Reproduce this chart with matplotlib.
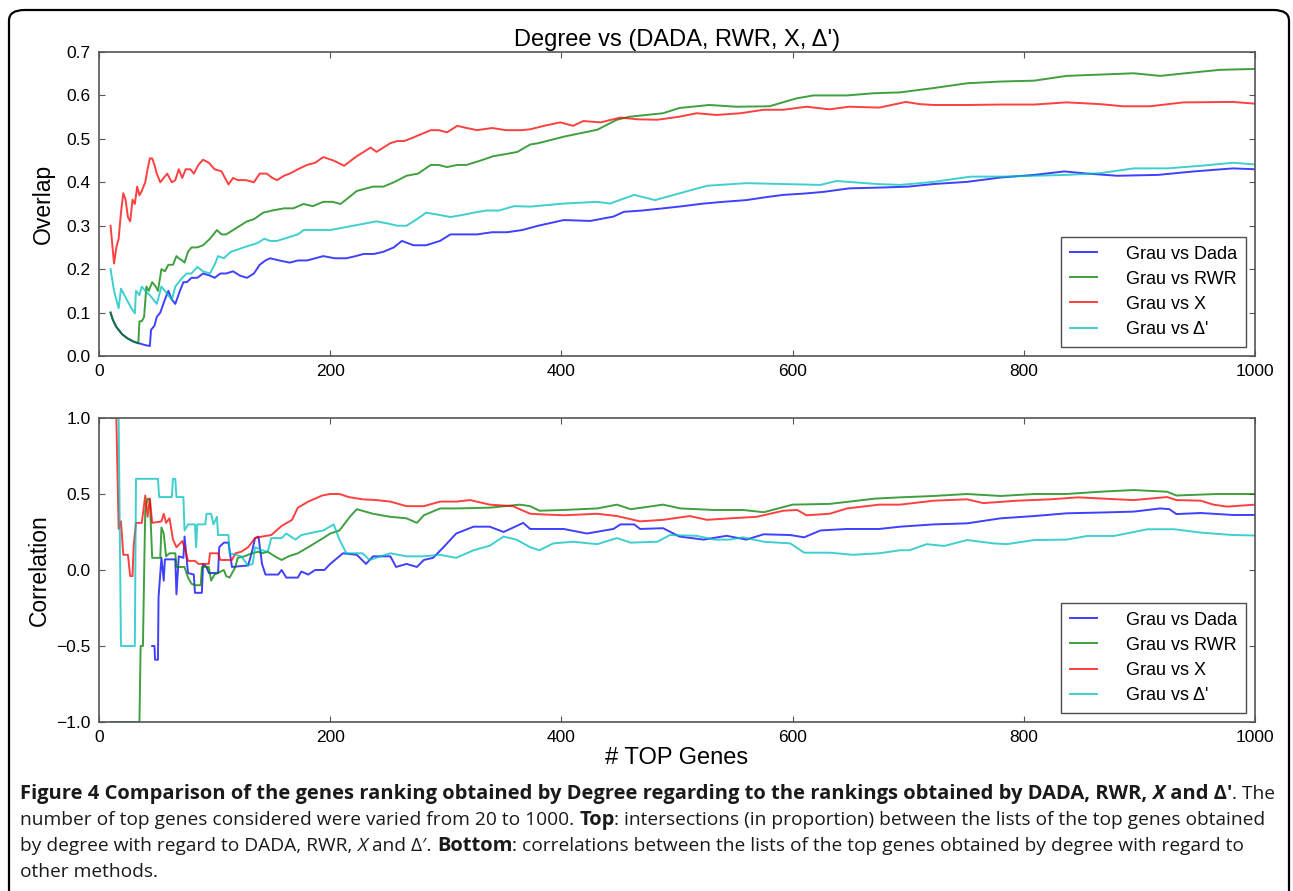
import matplotlib

matplotlib.use("Agg")
import matplotlib.pyplot as plt  # noqa: E402
from matplotlib.patches import FancyBboxPatch  # noqa: E402
from matplotlib.text import Annotation  # noqa: E402

# ---- top panel: overlap ----
ov_dada_x = [10, 12, 15, 20, 25, 30, 35, 40, 44, 45, 48, 50, 53, 57, 60, 63, 66, 70, 73, 76, 80,
             85, 90, 96, 100, 105, 110, 116, 122, 128, 134, 139, 144, 148, 156, 165, 172, 180, 187,
             194, 204, 214, 222, 229, 238, 246, 255, 262, 272, 283, 295, 304, 315, 327, 340, 353,
             366, 380, 402, 425, 445, 454, 470, 488, 505, 523, 540, 560, 575, 592, 610, 627, 649,
             678, 700, 722, 751, 780, 809, 835, 855, 881, 916, 947, 981, 1000]
ov_dada_y = [0.10, 0.083, 0.067, 0.05, 0.04, 0.033, 0.029, 0.025, 0.023, 0.06, 0.07, 0.09, 0.10,
             0.13, 0.15, 0.13, 0.12, 0.15, 0.17, 0.17, 0.18, 0.18, 0.19, 0.185, 0.18, 0.19, 0.19,
             0.195, 0.185, 0.18, 0.19, 0.21, 0.22, 0.225, 0.22, 0.215, 0.22, 0.22, 0.225, 0.23,
             0.225, 0.225, 0.23, 0.235, 0.235, 0.24, 0.25, 0.265, 0.255, 0.255, 0.265, 0.28, 0.28,
             0.28, 0.285, 0.285, 0.29, 0.30, 0.313, 0.311, 0.321, 0.332, 0.335, 0.34, 0.345, 0.351,
             0.355, 0.359, 0.365, 0.371, 0.374, 0.378, 0.386, 0.388, 0.39, 0.396, 0.401, 0.411,
             0.417, 0.425, 0.42, 0.415, 0.417, 0.425, 0.432, 0.43]

ov_rwr_x = [10, 12, 15, 20, 25, 30, 34, 35, 37, 39, 41, 43, 46, 49, 51, 54, 57, 60, 64, 67, 69, 72,
            74, 77, 80, 85, 90, 96, 102, 106, 110, 116, 122, 128, 134, 142, 150, 160, 168, 177, 185,
            194, 202, 209, 216, 223, 230, 237, 246, 255, 266, 276, 287, 294, 301, 310, 318, 330,
            341, 352, 362, 373, 380, 402, 431, 448, 459, 488, 502, 528, 551, 580, 603, 618, 647,
            670, 693, 722, 751, 780, 809, 837, 866, 895, 918, 947, 970, 1000]
ov_rwr_y = [0.10, 0.083, 0.067, 0.05, 0.04, 0.033, 0.029, 0.08, 0.08, 0.09, 0.16, 0.15, 0.17, 0.16,
            0.15, 0.20, 0.195, 0.21, 0.21, 0.23, 0.225, 0.22, 0.215, 0.24, 0.25, 0.25, 0.255, 0.27,
            0.29, 0.28, 0.28, 0.29, 0.30, 0.31, 0.315, 0.33, 0.335, 0.34, 0.34, 0.35, 0.345, 0.355,
            0.355, 0.35, 0.365, 0.38, 0.385, 0.39, 0.39, 0.40, 0.415, 0.42, 0.44, 0.44, 0.435, 0.44,
            0.44, 0.45, 0.46, 0.465, 0.47, 0.487, 0.49, 0.505, 0.521, 0.544, 0.551, 0.559, 0.571,
            0.578, 0.574, 0.575, 0.593, 0.60, 0.60, 0.605, 0.607, 0.617, 0.628, 0.632, 0.634, 0.645,
            0.648, 0.651, 0.645, 0.653, 0.659, 0.661]

ov_x_x = [10, 13, 15, 17, 19, 21, 23, 25, 27, 29, 31, 33, 35, 37, 40, 42, 44, 46, 48, 50, 53, 56,
          59, 63, 66, 69, 72, 75, 79, 82, 86, 90, 95, 100, 106, 112, 116, 120, 127, 134, 139, 145,
          150, 154, 160, 165, 172, 180, 187, 194, 203, 212, 218, 223, 229, 235, 240, 246, 252, 258,
          264, 269, 278, 287, 294, 301, 310, 318, 327, 340, 352, 365, 373, 385, 399, 410, 419, 434,
          451, 466, 483, 502, 517, 534, 555, 575, 592, 612, 632, 649, 675, 698, 710, 722, 751, 780,
          809, 837, 866, 886, 909, 938, 981, 1000]
ov_x_y = [0.30, 0.213, 0.25, 0.27, 0.33, 0.375, 0.36, 0.32, 0.31, 0.36, 0.35, 0.39, 0.37, 0.38,
          0.40, 0.43, 0.455, 0.455, 0.44, 0.42, 0.40, 0.41, 0.42, 0.40, 0.405, 0.43, 0.41, 0.43,
          0.43, 0.42, 0.44, 0.452, 0.445, 0.43, 0.425, 0.395, 0.41, 0.405, 0.405, 0.40, 0.42, 0.42,
          0.41, 0.405, 0.415, 0.42, 0.43, 0.44, 0.445, 0.458, 0.45, 0.438, 0.45, 0.46, 0.47, 0.48,
          0.47, 0.48, 0.49, 0.495, 0.495, 0.50, 0.51, 0.52, 0.52, 0.515, 0.53, 0.525, 0.52, 0.525,
          0.52, 0.52, 0.522, 0.53, 0.538, 0.53, 0.541, 0.538, 0.549, 0.545, 0.544, 0.551, 0.559,
          0.555, 0.559, 0.567, 0.567, 0.574, 0.568, 0.574, 0.572, 0.585, 0.58, 0.578, 0.578, 0.579,
          0.579, 0.584, 0.58, 0.575, 0.575, 0.584, 0.585, 0.581]

ov_delta_x = [10, 13, 17, 19, 22, 25, 28, 31, 32, 35, 37, 40, 44, 47, 50, 54, 57, 60, 63, 66, 69,
              72, 76, 80, 85, 90, 96, 100, 103, 108, 114, 120, 125, 131, 137, 143, 148, 154, 160,
              166, 172, 177, 185, 192, 200, 210, 220, 230, 240, 250, 258, 266, 275, 283, 294, 304,
              315, 324, 335, 346, 359, 373, 402, 431, 442, 463, 481, 500, 526, 560, 592, 624, 638,
              673, 693, 722, 754, 780, 809, 837, 866, 895, 924, 953, 981, 1000]
ov_delta_y = [0.20, 0.15, 0.11, 0.155, 0.14, 0.125, 0.11, 0.098, 0.15, 0.14, 0.16, 0.15, 0.14, 0.13,
              0.12, 0.16, 0.15, 0.14, 0.13, 0.16, 0.17, 0.18, 0.19, 0.19, 0.205, 0.195, 0.19, 0.21,
              0.23, 0.225, 0.24, 0.245, 0.25, 0.255, 0.26, 0.27, 0.265, 0.265, 0.27, 0.275, 0.28,
              0.29, 0.29, 0.29, 0.29, 0.295, 0.30, 0.305, 0.31, 0.305, 0.30, 0.30, 0.315, 0.33,
              0.325, 0.32, 0.325, 0.33, 0.335, 0.335, 0.345, 0.344, 0.351, 0.355, 0.351, 0.371,
              0.359, 0.373, 0.392, 0.398, 0.396, 0.394, 0.403, 0.396, 0.394, 0.401, 0.413, 0.413,
              0.415, 0.417, 0.421, 0.432, 0.432, 0.438, 0.445, 0.441]

# ---- bottom panel: correlation ----
co_dada_x = [46, 48, 48.5, 51, 51.5, 54, 56, 57, 66, 67, 69, 73, 74, 77, 82, 83, 89, 90, 93, 95,
             103, 104, 108, 112, 115, 129, 132, 135, 138, 141, 144, 155, 158, 162, 172, 175, 181,
             187, 195, 200, 211, 223, 231, 237, 252, 257, 266, 275, 281, 289, 298, 309, 324, 338,
             350, 367, 373, 381, 402, 422, 445, 451, 463, 468, 488, 502, 523, 543, 560, 575, 598,
             610, 624, 647, 675, 693, 722, 751, 780, 809, 837, 866, 895, 918, 926, 932, 953, 981,
             1000]
co_dada_y = [-0.5, -0.5, -0.59, -0.59, -0.18, 0.08, -0.07, 0.07, 0.07, -0.16, 0.09, 0.08, 0.22,
             -0.02, -0.03, -0.15, -0.15, 0.04, 0.02, -0.02, -0.02, 0.15, 0.18, 0.18, 0.02, 0.03,
             0.11, 0.21, 0.22, 0.04, -0.03, -0.03, 0.0, -0.05, -0.05, -0.01, -0.03, 0.0, 0.0, 0.04,
             0.11, 0.10, 0.04, 0.09, 0.09, 0.02, 0.04, 0.02, 0.066, 0.08, 0.15, 0.24, 0.285, 0.285,
             0.25, 0.31, 0.27, 0.27, 0.27, 0.24, 0.27, 0.30, 0.30, 0.27, 0.275, 0.22, 0.20, 0.225,
             0.20, 0.235, 0.23, 0.215, 0.26, 0.27, 0.27, 0.285, 0.30, 0.307, 0.34, 0.355, 0.373,
             0.378, 0.384, 0.405, 0.40, 0.368, 0.375, 0.362, 0.362]

co_rwr_x = [10, 35, 36, 38, 39, 40, 42, 44, 46, 53, 54, 56, 58, 61, 66, 67, 74, 77, 80, 83, 88, 89,
            95, 97, 100, 108, 110, 113, 118, 120, 126, 132, 138, 141, 146, 152, 158, 164, 172, 181,
            194, 200, 208, 217, 223, 237, 252, 266, 275, 281, 295, 309, 338, 364, 373, 381, 402,
            431, 448, 460, 488, 503, 532, 557, 575, 600, 632, 672, 693, 722, 751, 780, 809, 837,
            866, 895, 924, 932, 967, 1000]
co_rwr_y = [-1.0, -1.0, -0.5, -0.5, -0.04, 0.39, 0.47, 0.46, 0.08, 0.08, 0.28, 0.24, 0.09, 0.11,
            0.11, 0.02, 0.02, -0.05, -0.09, -0.10, -0.10, 0.02, 0.02, -0.07, -0.03, 0.0, -0.04,
            -0.05, 0.02, 0.08, 0.09, 0.11, 0.12, 0.11, 0.12, 0.09, 0.066, 0.09, 0.11, 0.15, 0.21,
            0.24, 0.26, 0.35, 0.40, 0.37, 0.35, 0.34, 0.31, 0.36, 0.405, 0.405, 0.41, 0.43, 0.42,
            0.39, 0.395, 0.405, 0.43, 0.40, 0.43, 0.405, 0.395, 0.395, 0.38, 0.43, 0.435, 0.47,
            0.478, 0.487, 0.50, 0.487, 0.50, 0.50, 0.515, 0.526, 0.515, 0.49, 0.50, 0.50]

co_x_x = [10, 15, 17, 19, 21, 25, 27, 29, 30, 32, 37, 40, 42, 44, 46, 54, 56, 58, 61, 64, 67, 72,
          74, 77, 83, 86, 95, 96, 103, 105, 115, 118, 123, 129, 135, 141, 149, 158, 167, 172, 181,
          193, 200, 208, 216, 228, 240, 252, 266, 281, 295, 309, 321, 338, 358, 373, 385, 402, 431,
          448, 468, 488, 511, 526, 546, 569, 592, 604, 612, 632, 647, 675, 693, 722, 751, 765, 794,
          823, 847, 881, 895, 924, 932, 953, 964, 976, 1000]
co_x_y = [1.0, 1.0, 0.27, 0.32, 0.10, 0.10, -0.04, -0.04, 0.16, 0.31, 0.31, 0.49, 0.35, 0.47, 0.31,
          0.32, 0.37, 0.31, 0.34, 0.20, 0.15, 0.19, 0.15, 0.06, 0.06, 0.04, 0.04, 0.11, 0.11,
          0.066, 0.066, 0.11, 0.12, 0.15, 0.21, 0.22, 0.23, 0.29, 0.33, 0.41, 0.45, 0.49, 0.50,
          0.50, 0.48, 0.465, 0.46, 0.45, 0.42, 0.42, 0.45, 0.45, 0.46, 0.43, 0.42, 0.37, 0.365,
          0.36, 0.37, 0.355, 0.32, 0.33, 0.355, 0.33, 0.34, 0.35, 0.39, 0.395, 0.36, 0.37, 0.405,
          0.43, 0.43, 0.456, 0.465, 0.44, 0.456, 0.465, 0.478, 0.465, 0.46, 0.48, 0.46, 0.456,
          0.43, 0.417, 0.43]

co_delta_x = [10, 17, 19, 31, 32, 51, 52, 63, 64, 66, 67, 73, 74, 77, 83, 84, 85, 92, 93, 97, 99,
              102, 103, 112, 113, 123, 129, 133, 135, 141, 146, 149, 158, 162, 170, 175, 187, 194,
              203, 208, 214, 228, 234, 252, 266, 281, 295, 309, 324, 338, 350, 361, 373, 381, 393,
              410, 431, 448, 460, 483, 494, 517, 532, 546, 557, 575, 598, 610, 632, 652, 675, 693,
              701, 716, 731, 751, 774, 785, 809, 837, 855, 878, 907, 930, 953, 981, 1000]
co_delta_y = [1.0, 1.0, -0.5, -0.5, 0.60, 0.60, 0.48, 0.48, 0.60, 0.60, 0.48, 0.48, 0.26, 0.30,
              0.30, 0.15, 0.30, 0.30, 0.37, 0.37, 0.30, 0.35, 0.23, 0.23, 0.11, 0.09, 0.03, 0.04,
              0.15, 0.13, 0.12, 0.21, 0.21, 0.24, 0.20, 0.23, 0.25, 0.26, 0.30, 0.20, 0.11, 0.11,
              0.066, 0.11, 0.09, 0.09, 0.10, 0.08, 0.13, 0.16, 0.22, 0.20, 0.15, 0.13, 0.175, 0.186,
              0.17, 0.21, 0.18, 0.186, 0.23, 0.225, 0.20, 0.20, 0.215, 0.186, 0.175, 0.114, 0.114,
              0.10, 0.11, 0.13, 0.13, 0.17, 0.158, 0.197, 0.175, 0.17, 0.197, 0.20, 0.224, 0.224,
              0.268, 0.268, 0.246, 0.23, 0.227]

labels = ["Grau vs Dada", "Grau vs RWR", "Grau vs X", "Grau vs \u0394'"]
colors = ["b", "g", "r", "c"]

top_series = [(ov_dada_x, ov_dada_y), (ov_rwr_x, ov_rwr_y), (ov_x_x, ov_x_y),
              (ov_delta_x, ov_delta_y)]
bot_series = [(co_dada_x, co_dada_y), (co_rwr_x, co_rwr_y), (co_x_x, co_x_y),
              (co_delta_x, co_delta_y)]

plt.rcParams["font.family"] = ["Liberation Sans", "DejaVu Sans"]
plt.rcParams["axes.unicode_minus"] = True

W, H = 1293, 891
fig = plt.figure(figsize=(W / 100, H / 100), dpi=100)

# rounded border of the figure panel (bottom edge runs off the image)
fig.patches.append(FancyBboxPatch((9 / W, -0.2), 1280 / W, 1.2 - 10 / H,
                                  boxstyle="round,pad=0,rounding_size=0.012",
                                  transform=fig.transFigure, fill=False,
                                  ec="black", lw=1.6))

ax1 = fig.add_axes([99 / W, 1 - 356 / H, 1156 / W, 304 / H])
ax2 = fig.add_axes([99 / W, 1 - 722 / H, 1156 / W, 304 / H])

for ax, series in ((ax1, top_series), (ax2, bot_series)):
    for (xs, ys), c, lab in zip(series, colors, labels):
        ax.plot(xs, ys, color=c, alpha=0.75, lw=1.4, label=lab)
    ax.set_xlim(0, 1000)
    ax.set_xticks(range(0, 1001, 200))
    ax.tick_params(direction="in", top=True, right=True, labelsize=12.5,
                   length=4, color="#555555", pad=6)
    for sp in ax.spines.values():
        sp.set_color("#555555")
        sp.set_linewidth(1.2)
    leg = ax.legend(loc="lower right", fontsize=13, frameon=True, fancybox=False,
                    handlelength=1.5, handletextpad=1.6, borderpad=0.5,
                    labelspacing=0.45, borderaxespad=0.5)
    leg.get_frame().set_edgecolor("#222222")
    leg.get_frame().set_linewidth(1.0)

ax1.set_ylim(0, 0.7)
ax1.set_yticks([0.0, 0.1, 0.2, 0.3, 0.4, 0.5, 0.6, 0.7])
ax1.set_ylabel("Overlap", fontsize=16.5, labelpad=8)
ax1.set_title("Degree vs (DADA, RWR, X, \u0394')", fontsize=17, pad=4)

ax2.set_ylim(-1, 1)
ax2.set_yticks([-1.0, -0.5, 0.0, 0.5, 1.0])
ax2.set_ylabel("Correlation", fontsize=16.5, labelpad=4)
ax2.set_xlabel("# TOP Genes", fontsize=17, labelpad=1)

# caption: runs of (text, weight, style) chained one after another
CAP = ["Open Sans", "DejaVu Sans"]
SIZE = {"bold": 14.5, "normal": 13.8}
caption = [
    [("Figure 4 Comparison of the genes ranking obtained by Degree regarding to the rankings "
      "obtained by DADA, RWR, ", "bold", "normal"), ("X", "bold", "italic"),
     (" and \u0394\u2032", "bold", "normal"), (". The", "normal", "normal")],
    [("number of top genes considered were varied from 20 to 1000. ", "normal", "normal"),
     ("Top", "bold", "normal"),
     (": intersections (in proportion) between the lists of the top genes obtained",
      "normal", "normal")],
    [("by degree with regard to DADA, RWR, ", "normal", "normal"), ("X", "normal", "italic"),
     (" and \u0394\u2032. ", "normal", "normal"), ("Bottom", "bold", "normal"),
     (": correlations between the lists of the top genes obtained by degree with regard to",
      "normal", "normal")],
    [("other methods.", "normal", "normal")],
]
baselines = [799, 825, 851, 877]
for runs, yb in zip(caption, baselines):
    yf = 1 - yb / H
    last = None
    for text, weight, style in runs:
        kw = dict(fontsize=SIZE[weight], family=CAP, fontweight=weight, fontstyle=style,
                  color="#1a1a1a", ha="left", va="baseline")
        if last is None:
            last = fig.text(20 / W, yf, text, **kw)
        else:
            last = fig.add_artist(Annotation(text, xy=(1, yf),
                                             xycoords=(last, "figure fraction"), **kw))

fig.savefig("out.png", dpi=100)
